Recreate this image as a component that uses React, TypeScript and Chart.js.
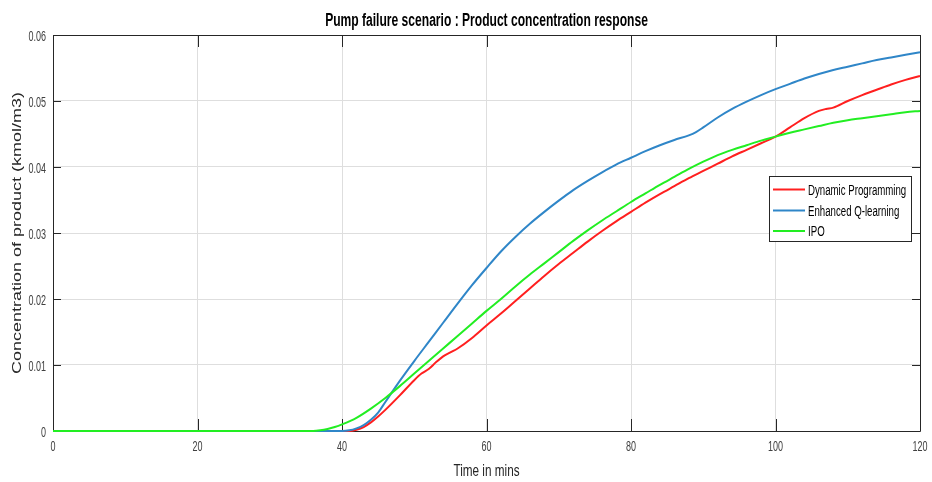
import React, { useEffect, useRef } from "react";
import { Chart, registerables } from "chart.js";

Chart.register(...registerables);

const chartTitle = "Pump failure scenario : Product concentration response";
const xAxisTitle = "Time in mins";
const yAxisTitle = "Concentration of product (kmol/m3)";

const xTickValues = [0, 20, 40, 60, 80, 100, 120];
const xTickLabels = ["0", "20", "40", "60", "80", "100", "120"];
const yTickValues = [0, 0.01, 0.02, 0.03, 0.04, 0.05, 0.06];
const yTickLabels = ["0", "0.01", "0.02", "0.03", "0.04", "0.05", "0.06"];

const seriesNames = ["Dynamic Programming", "Enhanced Q-learning", "IPO"];
const seriesColors = ["#ff1f1f", "#2f86c8", "#22ee22"];

const dpTime = [0, 41, 42, 43, 44, 45, 46, 48, 50, 51, 52, 53, 54, 55, 56, 58, 60, 62, 64, 66, 68, 70, 72, 74, 76, 78, 80, 82, 84, 86, 88, 90, 92, 94, 96, 98, 100, 102, 104, 106, 107, 108, 110, 112, 114, 116, 118, 120];
const dpConc = [0, 0, 0.0002, 0.0006, 0.0013, 0.0022, 0.0032, 0.0054, 0.0077, 0.0087, 0.0094, 0.0104, 0.0113, 0.0119, 0.0125, 0.0141, 0.016, 0.0178, 0.0197, 0.0216, 0.0235, 0.0253, 0.027, 0.0287, 0.0303, 0.0318, 0.0332, 0.0346, 0.0359, 0.0371, 0.0383, 0.0394, 0.0405, 0.0416, 0.0426, 0.0436, 0.0446, 0.046, 0.0474, 0.0485, 0.0488, 0.049, 0.05, 0.0509, 0.0517, 0.0525, 0.0532, 0.0538];

const qlTime = [0, 40, 41, 42, 43, 44, 45, 46, 48, 50, 52, 54, 56, 58, 60, 62, 64, 66, 68, 70, 72, 74, 76, 78, 80, 82, 84, 86, 88, 89, 90, 92, 94, 96, 98, 100, 102, 104, 106, 108, 110, 112, 114, 116, 118, 120];
const qlConc = [0, 0, 0.0001, 0.0004, 0.0009, 0.0017, 0.0028, 0.0044, 0.0076, 0.0106, 0.0135, 0.0164, 0.0193, 0.0221, 0.0247, 0.0272, 0.0294, 0.0314, 0.0332, 0.0349, 0.0365, 0.0379, 0.0392, 0.0404, 0.0414, 0.0424, 0.0433, 0.0441, 0.0448, 0.0453, 0.046, 0.0475, 0.0488, 0.0499, 0.0509, 0.0518, 0.0526, 0.0534, 0.0541, 0.0547, 0.0552, 0.0557, 0.0562, 0.0566, 0.057, 0.0574];

const ipoTime = [0, 36, 37, 38, 39, 40, 42, 44, 46, 48, 50, 52, 54, 56, 58, 60, 62, 64, 66, 68, 70, 72, 74, 76, 78, 80, 82, 84, 86, 88, 90, 92, 94, 96, 98, 100, 102, 104, 106, 108, 110, 112, 114, 116, 118, 120];
const ipoConc = [0, 0, 0.0001, 0.0003, 0.0006, 0.001, 0.002, 0.0034, 0.005, 0.0068, 0.0087, 0.0106, 0.0125, 0.0144, 0.0163, 0.0182, 0.02, 0.0219, 0.0237, 0.0254, 0.0271, 0.0288, 0.0304, 0.0319, 0.0333, 0.0347, 0.036, 0.0373, 0.0385, 0.0397, 0.0408, 0.0418, 0.0426, 0.0433, 0.044, 0.0446, 0.0452, 0.0457, 0.0462, 0.0467, 0.0471, 0.0474, 0.0477, 0.048, 0.0483, 0.0485];

const NARROW = 0.69;
const TICK_NARROW = 0.6;
const FONT = '"Liberation Sans", Arial, sans-serif';

function toPoints(xs: number[], ys: number[]) {
  return xs.map((x, i) => ({ x, y: ys[i] }));
}

function narrowText(
  ctx: CanvasRenderingContext2D,
  text: string,
  x: number,
  y: number,
  font: string,
  color: string,
  align: CanvasTextAlign,
  sx: number = NARROW
) {
  ctx.save();
  ctx.font = font;
  ctx.fillStyle = color;
  ctx.textAlign = align;
  ctx.textBaseline = "alphabetic";
  ctx.translate(x, y);
  ctx.scale(sx, 1);
  ctx.fillText(text, 0, 0);
  ctx.restore();
}

const framePlugin = {
  id: "matlabFrame",
  beforeDatasetsDraw(chart: any) {
    const { ctx, chartArea: a, scales } = chart;
    const xs = scales.x;
    const ys = scales.y;
    ctx.save();
    ctx.strokeStyle = "#262626";
    ctx.lineWidth = 1;
    ctx.beginPath();
    ctx.rect(Math.round(a.left) + 0.5, Math.round(a.top) + 0.5, Math.round(a.right - a.left), Math.round(a.bottom - a.top));
    ctx.stroke();
    ctx.beginPath();
    xTickValues.forEach((v) => {
      const px = Math.round(xs.getPixelForValue(v)) + 0.5;
      ctx.moveTo(px, a.bottom);
      ctx.lineTo(px, a.bottom - 12);
      ctx.moveTo(px, a.top);
      ctx.lineTo(px, a.top + 12);
    });
    yTickValues.forEach((v) => {
      const py = Math.round(ys.getPixelForValue(v)) + 0.5;
      ctx.moveTo(a.left, py);
      ctx.lineTo(a.left + 8, py);
      ctx.moveTo(a.right, py);
      ctx.lineTo(a.right - 8, py);
    });
    ctx.stroke();
    ctx.restore();
  },
  afterDraw(chart: any) {
    const { ctx, chartArea: a, scales } = chart;
    const xs = scales.x;
    const ys = scales.y;
    const tickFont = `15px ${FONT}`;
    xTickValues.forEach((v, i) => {
      narrowText(ctx, xTickLabels[i], xs.getPixelForValue(v), 450.5, tickFont, "#404040", "center", TICK_NARROW);
    });
    yTickValues.forEach((v, i) => {
      narrowText(ctx, yTickLabels[i], a.left - 7, ys.getPixelForValue(v) + 5.5, tickFont, "#404040", "right", TICK_NARROW);
    });
    const cx = (a.left + a.right) / 2;
    narrowText(ctx, chartTitle, cx, 26, `bold 17.5px ${FONT}`, "#000000", "center");
    narrowText(ctx, xAxisTitle, cx, 476, `17px ${FONT}`, "#262626", "center");

    ctx.save();
    ctx.font = `18px ${FONT}`;
    ctx.fillStyle = "#262626";
    ctx.textAlign = "center";
    ctx.textBaseline = "alphabetic";
    ctx.translate(21, (a.top + a.bottom) / 2);
    ctx.rotate(-Math.PI / 2);
    ctx.scale(1, NARROW);
    ctx.fillText(yAxisTitle, 0, 0);
    ctx.restore();

    // legend
    const lx = 769.5, ly = 176.5, lw = 142, lh = 65;
    ctx.save();
    ctx.fillStyle = "#ffffff";
    ctx.fillRect(lx, ly, lw, lh);
    ctx.strokeStyle = "#262626";
    ctx.lineWidth = 1;
    ctx.strokeRect(lx, ly, lw, lh);
    const rows = [189.5, 210.5, 231];
    chart.data.datasets.forEach((ds: any, i: number) => {
      ctx.strokeStyle = ds.borderColor;
      ctx.lineWidth = 2;
      ctx.beginPath();
      ctx.moveTo(773, rows[i]);
      ctx.lineTo(805, rows[i]);
      ctx.stroke();
      narrowText(ctx, ds.label, 808, rows[i] + 5, `14px ${FONT}`, "#000000", "left");
    });
    ctx.restore();
  },
};

export default function App() {
  const canvasRef = useRef<HTMLCanvasElement | null>(null);

  useEffect(() => {
    document.body.style.margin = "0";
    const canvas = canvasRef.current;
    if (!canvas) return;
    const seriesData = [toPoints(dpTime, dpConc), toPoints(qlTime, qlConc), toPoints(ipoTime, ipoConc)];
    const chart = new Chart(canvas, {
      type: "line",
      data: {
        datasets: seriesNames.map((name, i) => ({
          label: name,
          data: seriesData[i],
          borderColor: seriesColors[i],
          backgroundColor: seriesColors[i],
          borderWidth: 2,
          pointRadius: 0,
          fill: false,
          cubicInterpolationMode: "monotone" as const,
          clip: false as any,
          order: 2 - i,
        })),
      },
      options: {
        animation: false,
        responsive: false,
        maintainAspectRatio: false,
        layout: { padding: { top: 35, right: 12, left: 0, bottom: 0 } },
        plugins: {
          legend: { display: false },
          title: { display: false },
          tooltip: { enabled: false },
        },
        scales: {
          x: {
            type: "linear",
            min: 0,
            max: 120,
            ticks: { display: false, stepSize: 20 },
            grid: { color: "#dedede", drawTicks: false, lineWidth: 1 },
            border: { display: false },
            afterFit: (scale: any) => {
              scale.height = 51;
            },
          },
          y: {
            type: "linear",
            min: 0,
            max: 0.06,
            ticks: { display: false, stepSize: 0.01 },
            grid: { color: "#dedede", drawTicks: false, lineWidth: 1 },
            border: { display: false },
            afterFit: (scale: any) => {
              scale.width = 53;
            },
          },
        },
      },
      plugins: [framePlugin],
    });
    return () => chart.destroy();
  }, []);

  return (
    <div style={{ position: "absolute", left: 0, top: 0, width: 932, height: 482, background: "#ffffff" }}>
      <canvas ref={canvasRef} width={932} height={482} style={{ width: 932, height: 482, display: "block" }} />
    </div>
  );
}
